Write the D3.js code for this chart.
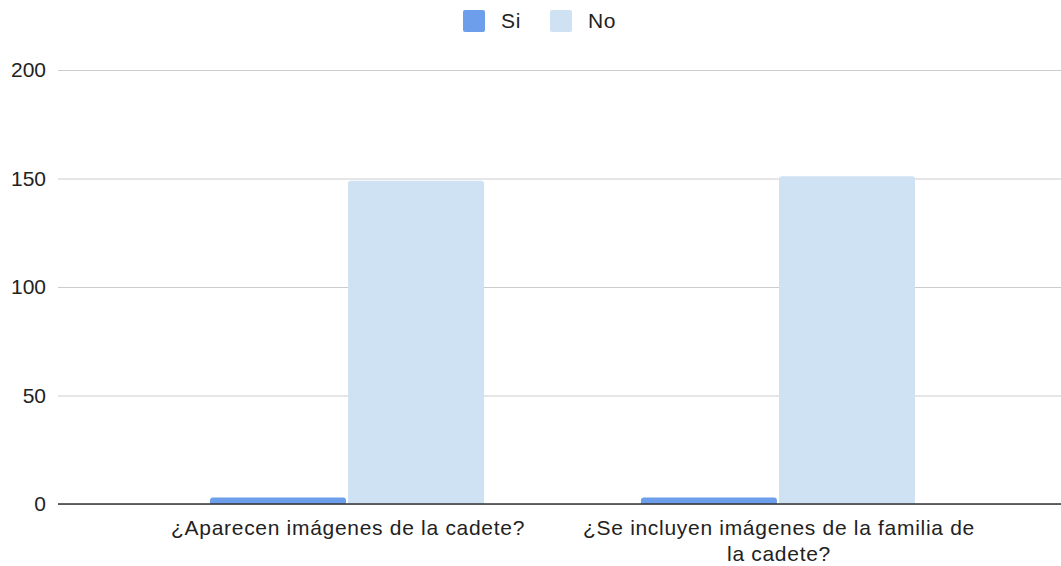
<!DOCTYPE html>
<html>
<head>
<meta charset="utf-8">
<script src="https://cdn.jsdelivr.net/npm/d3@7"></script>
<style>
	body { margin: 0; background: #fff; }
	text { font-family: Arial, "Liberation Sans", sans-serif; fill: #222; letter-spacing: 0.7px; }
</style>
</head>
<body>
<svg id="chart" width="1061" height="566"></svg>
<script>
// chart values
var categories = ['¿Aparecen imágenes de la cadete?', '¿Se incluyen imágenes de la familia de la cadete?'];
var categoryLines = [
	['¿Aparecen imágenes de la cadete?'],
	['¿Se incluyen imágenes de la familia de', 'la cadete?']
];
var seriesNames = ['Si', 'No'];
var siValues = [3, 3];
var noValues = [149, 151];
var yTicks = [0, 50, 100, 150, 200];
var colors = ['#6d9eeb', '#cfe2f3'];

var svg = d3.select('#chart'),
	fontSize = 21,
	plotLeft = 58, plotRight = 1061,
	plotTop = 70, plotBottom = 504
	;

var y = d3.scaleLinear().domain([0, 200]).range([plotBottom, plotTop]);

var x0 = d3.scaleBand()
	.domain(categories)
	.range([210, 915])
	.paddingInner(0.364)
	.paddingOuter(0);

var x1 = d3.scaleBand()
	.domain(seriesNames)
	.range([0, x0.bandwidth()])
	.paddingInner(0.015);

// grid
var grid = svg.append('g')
	.attr('transform', 'translate(' + plotLeft + ',0)')
	.call(d3.axisLeft(y).tickValues(yTicks).tickSize(-(plotRight - plotLeft)).tickFormat(''));
grid.select('.domain').remove();
grid.selectAll('line').attr('stroke', '#cccccc').attr('stroke-width', 1);

// y labels
svg.append('g').selectAll('text')
	.data(yTicks)
	.enter().append('text')
	.attr('x', 46)
	.attr('y', function (d) { return y(d); })
	.attr('dy', '0.35em')
	.attr('text-anchor', 'end')
	.style('font-size', fontSize + 'px')
	.style('letter-spacing', '0px')
	.text(function (d) { return d; });

// bars
var rows = categories.map(function (c, i) {
	return { cat: c, vals: [siValues[i], noValues[i]] };
});
var groups = svg.append('g').selectAll('g')
	.data(rows)
	.enter().append('g')
	.attr('transform', function (d) { return 'translate(' + x0(d.cat) + ',0)'; });

function barPath(x, w, y0, y1, r) {
	r = Math.min(r, (y0 - y1) / 2, w / 2);
	return 'M' + x + ',' + y0 +
		'V' + (y1 + r) +
		'Q' + x + ',' + y1 + ' ' + (x + r) + ',' + y1 +
		'H' + (x + w - r) +
		'Q' + (x + w) + ',' + y1 + ' ' + (x + w) + ',' + (y1 + r) +
		'V' + y0 + 'Z';
}

groups.selectAll('path')
	.data(function (d) { return d.vals.map(function (v, i) { return { s: seriesNames[i], v: v, i: i }; }); })
	.enter().append('path')
	.attr('d', function (d) { return barPath(x1(d.s), x1.bandwidth(), y(0), y(d.v), 3); })
	.attr('fill', function (d) { return colors[d.i]; });

// baseline
svg.append('line')
	.attr('x1', plotLeft).attr('x2', plotRight)
	.attr('y1', y(0)).attr('y2', y(0))
	.attr('stroke', '#333').attr('stroke-width', 1.5);

// category labels
var labels = svg.append('g').selectAll('text')
	.data(categories)
	.enter().append('text')
	.attr('text-anchor', 'middle')
	.style('font-size', fontSize + 'px')
	.attr('transform', function (d) { return 'translate(' + (x0(d) + x0.bandwidth() / 2 + 1) + ',535)'; });
labels.each(function (d, i) {
	d3.select(this).selectAll('tspan')
		.data(categoryLines[i])
		.enter().append('tspan')
		.attr('x', 0)
		.attr('y', function (l, j) { return j * 26; })
		.text(function (l) { return l; });
});

// legend
var legend = svg.append('g').selectAll('g')
	.data(seriesNames)
	.enter().append('g')
	.attr('transform', function (d, i) { return 'translate(' + [463, 550][i] + ',10)'; });
legend.append('rect')
	.attr('width', 22).attr('height', 22).attr('rx', 2)
	.attr('fill', function (d, i) { return colors[i]; });
legend.append('text')
	.attr('x', 38).attr('y', 11).attr('dy', '0.35em')
	.style('font-size', fontSize + 'px')
	.text(function (d) { return d; });
</script>
</body>
</html>
